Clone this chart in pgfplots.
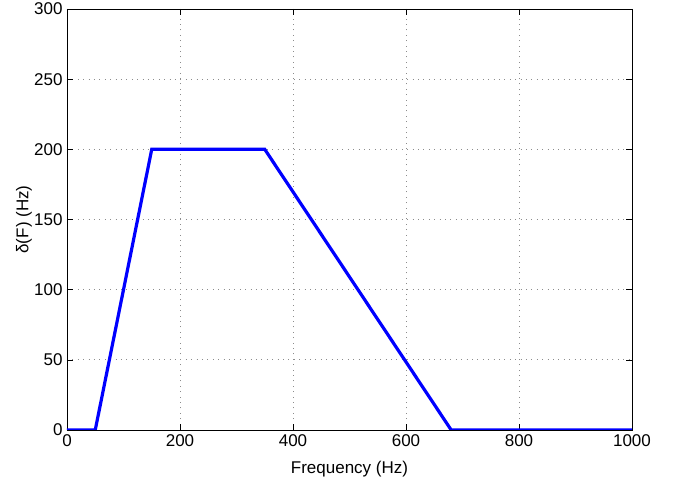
\documentclass[border=0pt]{standalone}
\usepackage{pgfplots}
\pgfplotsset{compat=1.18}
\usepackage{fontspec}
\setmainfont{Liberation Sans}
\begin{document}
\begin{tikzpicture}
\useasboundingbox (-67pt,-56pt) rectangle (606pt,430pt);
\begin{axis}[
  at={(0pt,0pt)}, anchor=south west,
  scale only axis, width=565pt, height=421pt,
  xmin=0, xmax=1000, ymin=0, ymax=300,
  xtick={0,200,...,1000}, ytick={0,50,...,300},
  grid=major,
  major grid style={dash pattern=on 0.9pt off 4.5pt, gray!90, line width=0.7pt},
  tick align=inside, major tick length=6pt,
  tick style={black, line width=0.6pt},
  axis line style={black, line width=0.8pt},
  /pgf/number format/assume math mode=true,
  /pgf/number format/1000 sep={},
  tick label style={font=\fontsize{17}{20}\selectfont},
  label style={font=\fontsize{17}{20}\selectfont},
  xticklabel style={yshift=-1pt},
  yticklabel style={xshift=-1pt},
  xlabel={Frequency (Hz)},
  ylabel={δ(F) (Hz)},
  xlabel style={at={(axis description cs:0.5,-0.093)}, anchor=center},
  ylabel style={at={(axis description cs:-0.076,0.5)}, anchor=center, rotate=0},
]
\addplot[color={rgb,255:red,0;green,0;blue,255}, line width=3.2pt, line join=miter] coordinates {
(0,0) (50,0) (150,200) (350,200) (680,0) (1000,0)
};
\end{axis}
\end{tikzpicture}
\end{document}
